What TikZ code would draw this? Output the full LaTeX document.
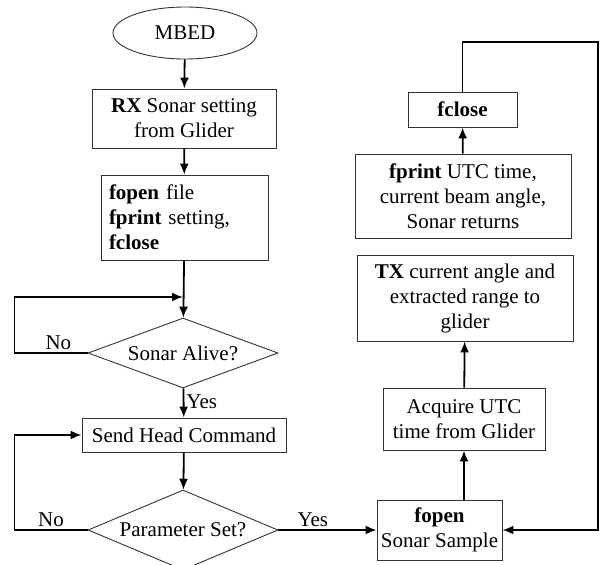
\documentclass[tikz,border=0pt]{standalone}
\usepackage{fontspec}
\setmainfont{Liberation Serif}
\usetikzlibrary{shapes.geometric, arrows.meta}

\begin{document}
\begin{tikzpicture}[x=1pt, y=-1pt,
    box/.style={draw=black!80, line width=0.9pt, rectangle, align=center, inner sep=0pt,
        font=\fontsize{21}{25}\selectfont},
    decision/.style={draw=black!80, line width=0.9pt, diamond, aspect=2.7, inner sep=0pt,
        font=\fontsize{21}{25}\selectfont},
    flow/.style={line width=1.8pt, -{Latex[length=11pt, width=9pt]}},
    lbl/.style={font=\fontsize{21}{25}\selectfont, inner sep=2pt}]
    \useasboundingbox (0,0) rectangle (603,565);

    % Setup column
    \node[draw=black!80, line width=0.9pt, ellipse, minimum width=144, minimum height=52,
        inner sep=0pt, font=\fontsize{21}{25}\selectfont] (mbed) at (185,33) {MBED};
    \node[box, minimum width=184, minimum height=59] (rx) at (184,118.5)
        {\textbf{RX} Sonar setting\\from Glider};
    \node[box, text width=151, inner xsep=8pt, minimum height=85, align=left] (fopen) at (184.5,217.5)
        {\textbf{fopen} file\\\textbf{fprint} setting,\\\textbf{fclose}};
    \node[decision, minimum width=190, minimum height=70] (alive) at (183,353) {Sonar Alive?};
    \node[box, minimum width=204, minimum height=34] (send) at (184,435) {Send Head Command};
    \node[decision, minimum width=190, minimum height=80] (param) at (183,530) {Parameter Set?};
    \coordinate (join) at (183,297);

    \draw[flow] (mbed) -- (rx);
    \draw[flow] (rx) -- (fopen);
    \draw[flow] (fopen) -- (alive);
    \draw[flow] (alive.west) -- node[lbl, above, pos=0.4] {No} ++(-73,0) |- (join);
    \draw[flow] (alive) -- node[lbl, right, pos=0.45] {Yes} (send);
    \draw[flow] (send) -- (param);
    \draw[flow] (param.west) -- node[lbl, above, pos=0.5] {No} ++(-73,0) |- (send.west);

    % Sampling column
    \node[box, minimum width=125, minimum height=60] (sample) at (439.5,530)
        {\textbf{fopen}\\Sonar Sample};
    \node[box, minimum width=162, minimum height=62] (acquire) at (464,419)
        {Acquire UTC\\time from Glider};
    \node[box, minimum width=216, minimum height=86] (tx) at (465,298)
        {\textbf{TX} current angle and\\extracted range to\\glider};
    \node[box, minimum width=216, minimum height=84] (fprint) at (463,196)
        {\textbf{fprint} UTC time,\\current beam angle,\\Sonar returns};
    \node[box, minimum width=109, minimum height=35] (fclose) at (462.5,109.5) {\textbf{fclose}};

    \draw[flow] (param.east) -- node[lbl, above, pos=0.35] {Yes} (sample.west);
    \draw[flow] (acquire.south |- sample.north) -- (acquire.south);
    \draw[flow] (acquire) -- (tx);
    \draw[flow] (fprint) -- (fclose);
    \draw[flow] (fclose.north) |- (598,42) |- (sample.east);
\end{tikzpicture}
\end{document}
